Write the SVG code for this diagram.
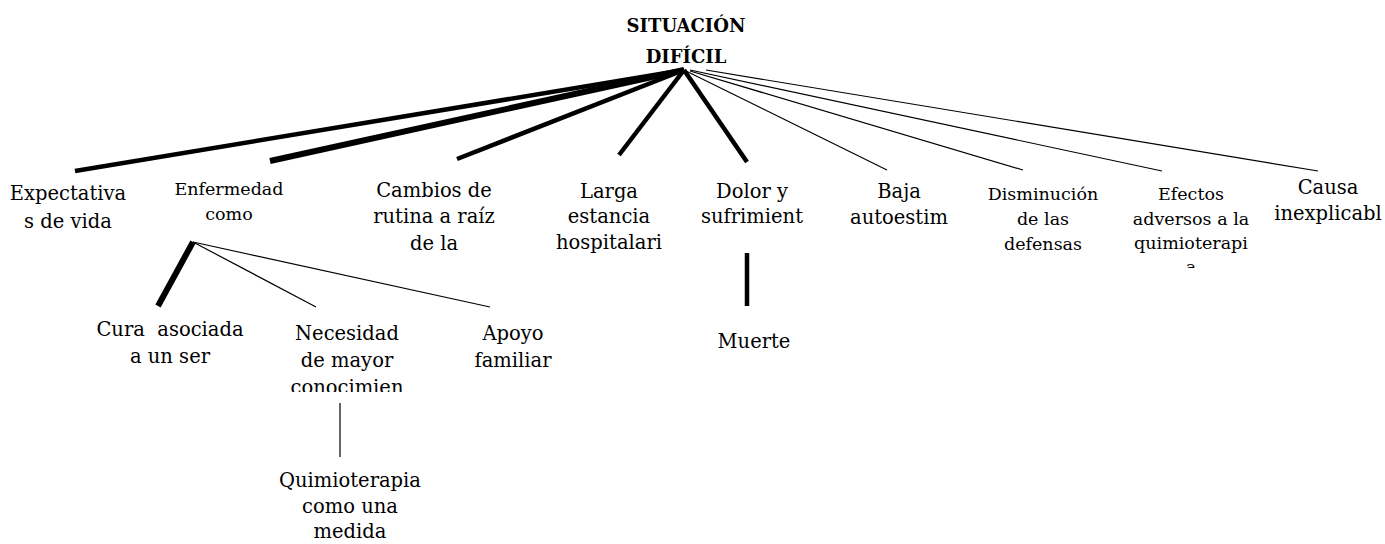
<svg xmlns="http://www.w3.org/2000/svg" width="1385" height="544" viewBox="0 0 1385 544">
<style>
text{font-family:"DejaVu Serif","Liberation Serif",serif;fill:#000;text-anchor:middle}
.t{font-size:18px;font-weight:bold}
.m{font-size:19.5px}
.s{font-size:17.5px}
.c line{stroke:#000;stroke-linecap:butt}
.k{stroke-width:4.5}
.kk{stroke-width:6}
.n{stroke-width:1.2}
</style>
<defs>
<clipPath id="clipEnf"><rect x="150" y="170" width="160" height="63"/></clipPath>
<clipPath id="clipEfe"><rect x="1120" y="170" width="150" height="98"/></clipPath>
<clipPath id="clipNec"><rect x="270" y="310" width="160" height="82"/></clipPath>
</defs>
<rect width="1385" height="544" fill="#fff"/>
<g class="c" id="connectors">
<line class="k" x1="684" y1="70" x2="75" y2="171"/>
<line class="kk" x1="684" y1="70" x2="270" y2="161"/>
<line class="k" x1="684" y1="70" x2="457" y2="159"/>
<line class="k" x1="684" y1="70" x2="619" y2="155"/>
<line class="k" x1="684" y1="70" x2="747" y2="162"/>
<line class="n" x1="684" y1="70" x2="887" y2="170"/>
<line class="n" x1="690" y1="71" x2="1023" y2="170"/>
<line class="n" x1="690" y1="70" x2="1162" y2="171"/>
<line class="n" x1="706" y1="70" x2="1318" y2="171"/>
<line class="kk" x1="193" y1="242" x2="158" y2="306"/>
<line class="n" x1="193" y1="242" x2="316" y2="307"/>
<line class="n" x1="193" y1="242" x2="490" y2="307"/>
<line class="n" x1="340" y1="403" x2="340" y2="457"/>
<line class="k" x1="747" y1="253" x2="747" y2="306"/>
</g>
<g id="root"><text class="t" x="686" y="32">SITUACIÓN</text><text class="t" x="686" y="63">DIFÍCIL</text></g>
<g id="expectativa"><text class="m" x="68" y="200">Expectativa</text><text class="m" x="68" y="228">s de vida</text></g>
<g id="enfermedad" clip-path="url(#clipEnf)"><text class="s" x="229" y="195">Enfermedad</text><text class="s" x="229" y="220">como</text></g>
<g id="cambios"><text class="m" x="434" y="197">Cambios de</text><text class="m" x="434" y="223">rutina a raíz</text><text class="m" x="434" y="250">de la</text></g>
<g id="larga"><text class="m" x="609" y="198">Larga</text><text class="m" x="609" y="223">estancia</text><text class="m" x="609" y="249">hospitalari</text></g>
<g id="dolor"><text class="m" x="752" y="198">Dolor y</text><text class="m" x="752" y="223">sufrimient</text></g>
<g id="baja"><text class="m" x="899" y="198">Baja</text><text class="m" x="899" y="224">autoestim</text></g>
<g id="disminucion"><text class="s" x="1043" y="200">Disminución</text><text class="s" x="1043" y="225">de las</text><text class="s" x="1043" y="250">defensas</text></g>
<g id="efectos" clip-path="url(#clipEfe)"><text class="s" x="1191" y="200">Efectos</text><text class="s" x="1191" y="225">adversos a la</text><text class="s" x="1191" y="249">quimioterapi</text><text class="s" x="1191" y="273">a</text></g>
<g id="causa"><text class="m" x="1328" y="194">Causa</text><text class="m" x="1328" y="220">inexplicabl</text></g>
<g id="cura"><text class="m" x="170" y="336" xml:space="preserve">Cura  asociada</text><text class="m" x="170" y="363">a un ser</text></g>
<g id="necesidad" clip-path="url(#clipNec)"><text class="m" x="347" y="340">Necesidad</text><text class="m" x="347" y="367">de mayor</text><text class="m" x="347" y="394">conocimien</text></g>
<g id="apoyo"><text class="m" x="513" y="340">Apoyo</text><text class="m" x="513" y="367">familiar</text></g>
<g id="muerte"><text class="m" x="754" y="348">Muerte</text></g>
<g id="quimioterapia"><text class="m" x="350" y="487">Quimioterapia</text><text class="m" x="350" y="513">como una</text><text class="m" x="350" y="538">medida</text></g>
</svg>
